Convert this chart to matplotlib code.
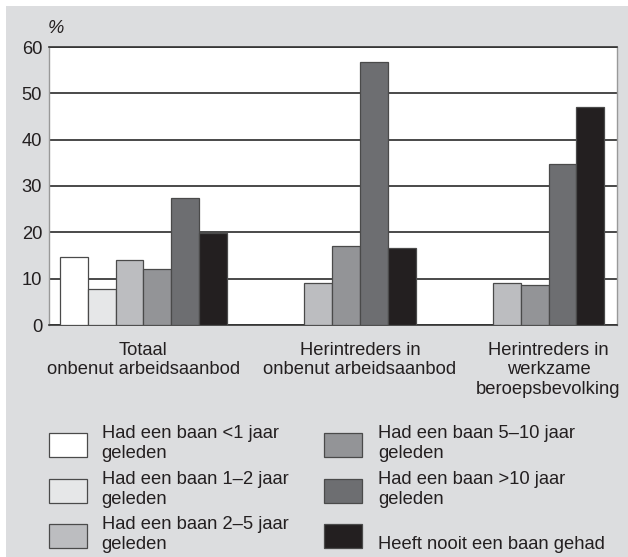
import numpy as np
import matplotlib
matplotlib.use("Agg")
import matplotlib.pyplot as plt
from matplotlib.patches import Rectangle

plt.rcParams['font.family'] = ['Liberation Sans', 'DejaVu Sans']

# ---------------- data ----------------
groups = ["Totaal\nonbenut arbeidsaanbod",
          "Herintreders in\nonbenut arbeidsaanbod",
          "Herintreders in\nwerkzame\nberoepsbevolking"]
series = ["Had een baan <1 jaar\ngeleden",
          "Had een baan 1–2 jaar\ngeleden",
          "Had een baan 2–5 jaar\ngeleden",
          "Had een baan 5–10 jaar\ngeleden",
          "Had een baan >10 jaar\ngeleden",
          "Heeft nooit een baan gehad"]
nan = np.nan
v_lt1 = [14.6, nan, nan]
v_1_2 = [7.8, nan, nan]
v_2_5 = [14.0, 9.1, 9.0]
v_5_10 = [12.0, 17.1, 8.6]
v_gt10 = [27.5, 56.7, 34.7]
v_never = [19.9, 16.7, 47.1]
values = [v_lt1, v_1_2, v_2_5, v_5_10, v_gt10, v_never]
yticks = [0, 10, 20, 30, 40, 50, 60]
colors = ['#ffffff', '#e6e7e8', '#bcbdc0', '#939497', '#6d6e71', '#231f20']

TXT = '#231f20'
EDGE = '#4a4a4a'
FS = 13.2

W, H = 628, 557
fig = plt.figure(figsize=(W / 100, H / 100), dpi=100, facecolor='white')
fig.patches.append(Rectangle((6 / W, 0), 1 - 6 / W, 1 - 6 / H,
                             transform=fig.transFigure, facecolor='#dcdddf',
                             edgecolor='none', zorder=-10))


def fx(px):
    return px / W


def fy(py):
    return 1 - py / H


ax = fig.add_axes([fx(49), fy(325), (617 - 49) / W, (325 - 47) / H])
ax.set_facecolor('white')

gstep = 6.78
nser = len(series)
base = np.arange(len(groups)) * gstep
for i, (vals, col) in enumerate(zip(values, colors)):
    ax.bar(base + i, vals, width=1.0, color=col, edgecolor=EDGE,
           linewidth=0.9, zorder=3)

# group label positions: centre of the non-empty bars of each group
centers = []
for g in range(len(groups)):
    idx = [i for i in range(nser) if not np.isnan(values[i][g])]
    centers.append(base[g] + np.mean(idx))

ax.set_xlim(-0.89, 2 * gstep + 5.96)
ax.set_ylim(0, 60)
ax.set_yticks(yticks)
ax.set_yticklabels([str(t) for t in yticks])
ax.set_xticks(centers)
ax.set_xticklabels(groups)
ax.tick_params(axis='y', length=0, pad=5, labelsize=FS, labelcolor=TXT)
ax.tick_params(axis='x', length=0, pad=12, labelsize=FS, labelcolor=TXT)
for lbl in ax.get_xticklabels():
    lbl.set_linespacing(1.2)

ax.yaxis.grid(True, color='#2a2a2a', linewidth=1.2, zorder=1)
ax.set_axisbelow(True)
for s in ['left', 'right']:
    ax.spines[s].set_color('#999999')
    ax.spines[s].set_linewidth(1.0)
for s in ['top', 'bottom']:
    ax.spines[s].set_color('#333333')
    ax.spines[s].set_linewidth(1.2)

fig.text(fx(48), fy(33), '%', style='italic', fontsize=FS, color=TXT,
         va='baseline', ha='left')

# ---------------- legend ----------------
col_patch_x = [49.3, 324]
col_text_x = [101.7, 378]
row_top = [433, 478.5, 524]
pw, ph = 38, 24
for k, (lab, col) in enumerate(zip(series, colors)):
    c, r = divmod(k, 3)
    x0, y0 = col_patch_x[c], row_top[r]
    fig.patches.append(Rectangle((fx(x0), fy(y0 + ph)), pw / W, ph / H,
                                 transform=fig.transFigure, facecolor=col,
                                 edgecolor=EDGE, linewidth=0.9))
    lines = lab.split('\n')
    baselines = [y0 + 5.3, y0 + 25.0][-len(lines):]
    for line, b in zip(lines, baselines):
        fig.text(fx(col_text_x[c]), fy(b), line, fontsize=FS, color=TXT,
                 va='baseline', ha='left')

fig.savefig('out.png', dpi=100, facecolor=fig.get_facecolor())
